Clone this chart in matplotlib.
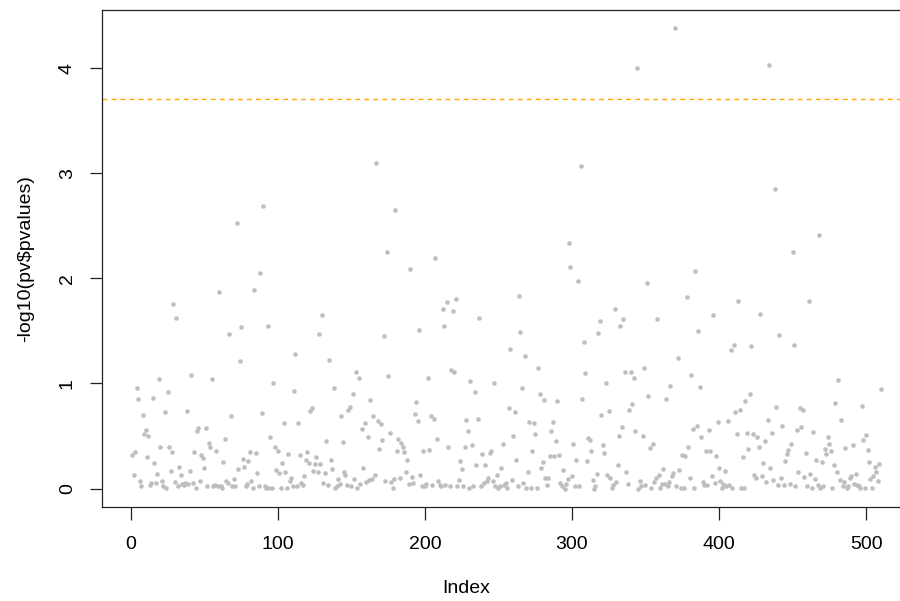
import numpy as np
import matplotlib
matplotlib.use("Agg")
import matplotlib.pyplot as plt

# -log10 p-values, one per index
neglog_p = [
    0.32, 0.13, 0.35, 0.96, 0.85, 0.07, 0.02, 0.70, 0.52, 0.56,
    0.30, 0.50, 0.03, 0.05, 0.86, 0.24, 0.05, 0.14, 1.04, 0.40,
    0.07, 0.02, 0.73, 0.01, 0.92, 0.40, 0.17, 0.35, 1.76, 0.06,
    1.62, 0.02, 0.21, 0.13, 0.04, 0.03, 0.05, 0.74, 0.04, 0.17,
    1.08, 0.05, 0.35, 0.01, 0.55, 0.58, 0.07, 0.32, 0.29, 0.20,
    0.58, 0.02, 0.43, 0.40, 1.04, 0.02, 0.03, 0.36, 0.02, 1.87,
    0.02, 0.01, 0.25, 0.47, 0.07, 0.05, 1.47, 0.69, 0.02, 0.09,
    0.02, 2.53, 0.19, 1.21, 1.54, 0.28, 0.21, 0.02, 0.04, 0.26,
    0.35, 0.07, 0.01, 1.89, 0.34, 0.15, 0.02, 2.05, 0.72, 2.69,
    0.02, 0.01, 1.55, 0.01, 0.49, 0.01, 1.00, 0.40, 0.18, 0.36,
    0.15, 0.01, 0.24, 0.62, 0.16, 0.01, 0.33, 0.07, 0.10, 0.02,
    0.93, 1.28, 0.02, 0.62, 0.32, 0.05, 0.03, 0.12, 0.27, 0.35,
    0.24, 0.74, 0.77, 0.17, 0.23, 0.30, 0.16, 1.47, 0.23, 1.65,
    0.05, 0.15, 0.45, 0.03, 1.22, 0.27, 0.19, 0.96, 0.01, 0.02,
    0.09, 0.04, 0.69, 0.44, 0.16, 0.13, 0.03, 0.75, 0.78, 0.02,
    0.90, 0.09, 1.11, 0.01, 1.05, 0.04, 0.57, 0.20, 0.62, 0.06,
    0.49, 0.08, 0.84, 0.09, 0.69, 0.13, 3.10, 0.64, 0.38, 0.61,
    0.46, 1.45, 0.07, 2.25, 1.07, 0.53, 0.06, 0.01, 0.09, 2.65,
    0.36, 0.47, 0.10, 0.43, 0.40, 0.35, 0.16, 0.27, 0.04, 2.09,
    0.11, 0.05, 0.71, 0.82, 0.64, 1.51, 0.13, 0.02, 0.36, 0.02,
    0.04, 1.05, 0.37, 0.69, 0.03, 0.66, 2.19, 0.47, 0.07, 0.03,
    0.02, 1.71, 1.55, 0.03, 1.77, 0.40, 0.02, 1.13, 1.69, 1.11,
    1.80, 0.02, 0.08, 0.26, 0.19, 0.02, 0.40, 0.65, 0.55, 0.01,
    1.02, 0.41, 0.02, 0.92, 0.22, 0.66, 1.62, 0.02, 0.33, 0.05,
    0.22, 0.07, 0.10, 0.34, 0.36, 0.07, 1.00, 0.02, 0.13, 0.01,
    0.02, 0.20, 0.42, 0.03, 0.05, 0.01, 0.77, 1.33, 0.08, 0.50,
    0.73, 0.27, 0.02, 1.83, 1.49, 0.96, 0.05, 1.26, 0.01, 0.16,
    0.63, 0.01, 0.36, 0.62, 0.52, 0.01, 1.15, 0.90, 0.20, 0.25,
    0.84, 0.10, 0.03, 0.10, 0.31, 0.55, 0.63, 0.31, 0.45, 0.83,
    0.32, 0.05, 0.02, 0.18, 0.00, 0.04, 0.09, 2.34, 2.11, 0.12,
    0.42, 0.02, 0.27, 1.97, 0.02, 3.07, 0.85, 1.39, 1.10, 0.26,
    0.48, 0.46, 0.36, 0.08, 0.00, 0.02, 0.14, 1.48, 1.59, 0.70,
    0.41, 0.34, 1.00, 0.13, 0.74, 0.10, 0.01, 0.03, 1.71, 0.06,
    0.22, 0.50, 1.55, 0.59, 1.61, 1.11, 0.16, 0.04, 0.75, 1.11,
    0.80, 1.05, 0.55, 4.00, 0.00, 0.07, 0.02, 0.50, 1.15, 0.03,
    1.96, 0.88, 0.39, 0.01, 0.42, 0.06, 0.10, 1.61, 0.13, 0.01,
    0.04, 0.19, 0.04, 0.85, 0.02, 0.06, 0.98, 0.12, 0.15, 4.38,
    0.02, 1.24, 0.18, 0.01, 0.32, 0.01, 0.31, 1.82, 0.40, 0.10,
    1.08, 0.57, 0.01, 2.07, 0.60, 1.50, 0.97, 0.49, 0.06, 0.03,
    0.36, 0.03, 0.56, 0.36, 0.12, 1.65, 0.05, 0.31, 0.63, 0.20,
    0.07, 0.01, 0.04, 0.17, 0.02, 0.64, 0.03, 1.32, 0.01, 1.37,
    0.73, 0.52, 1.78, 0.75, 0.01, 0.30, 0.01, 0.83, 0.53, 0.38,
    0.90, 1.36, 0.52, 0.13, 0.10, 0.49, 0.40, 1.66, 0.12, 0.24,
    0.45, 0.06, 0.65, 4.03, 0.20, 0.53, 0.08, 2.85, 0.78, 0.03,
    1.46, 0.10, 0.60, 0.03, 0.26, 0.33, 0.37, 0.04, 0.42, 2.25,
    1.37, 0.02, 0.56, 0.16, 0.77, 0.59, 0.75, 0.11, 0.34, 0.02,
    1.78, 0.14, 0.01, 0.54, 0.09, 0.27, 0.03, 2.41, 0.01, 0.25,
    0.02, 0.38, 0.33, 0.49, 0.42, 0.36, 0.01, 0.22, 0.81, 0.16,
    1.03, 0.08, 0.65, 0.02, 0.06, 0.39, 0.01, 0.02, 0.10, 0.12,
    0.41, 0.04, 0.14, 0.03, 0.02, 0.01, 0.79, 0.46, 0.01, 0.51,
    0.37, 0.25, 0.09, 0.01, 0.12, 0.21, 0.16, 0.07, 0.23, 0.95,
]
threshold = 3.71
x_ticks = [0, 100, 200, 300, 400, 500]
y_ticks = [0, 1, 2, 3, 4]

plt.rcParams["font.family"] = ["Liberation Sans", "DejaVu Sans"]

y = np.array(neglog_p)
idx = np.arange(1, len(y) + 1)

fig = plt.figure(figsize=(9, 6.01), dpi=100)
# plot box runs past the right edge of the picture, as in the reference
ax = fig.add_axes([0.1137, 0.1564, 0.8982, 0.8275])

ax.plot(idx, y, linestyle="none", marker="o", markersize=3.3,
        markerfacecolor="#bebebe", markeredgecolor="none")
ax.axhline(threshold, color="#ffa500", linewidth=1.0, dashes=(3.5, 3))

# R style 4% padding
xr = idx[-1] - idx[0]
yr = y.max() - y.min()
ax.set_xlim(idx[0] - 0.04 * xr, idx[-1] + 0.04 * xr)
ax.set_ylim(y.min() - 0.04 * yr, y.max() + 0.04 * yr)

ax.set_xticks(x_ticks)
ax.set_yticks(y_ticks)
ax.tick_params(axis="both", direction="out", length=9, width=0.9,
               labelsize=14, color="#222222")
ax.tick_params(axis="x", pad=12)
ax.tick_params(axis="y", pad=10)
for lab in ax.get_yticklabels():
    lab.set_rotation(90)
    lab.set_verticalalignment("center")

for sp in ax.spines.values():
    sp.set_linewidth(0.9)
    sp.set_color("#222222")

ax.set_xlabel("Index", fontsize=14)
ax.set_ylabel(r"-log10(pv\$pvalues)", fontsize=14)
ax.xaxis.set_label_coords(0.4505, -0.146)
ax.yaxis.set_label_coords(-0.084, 0.5)

fig.savefig("out.png", dpi=100)
